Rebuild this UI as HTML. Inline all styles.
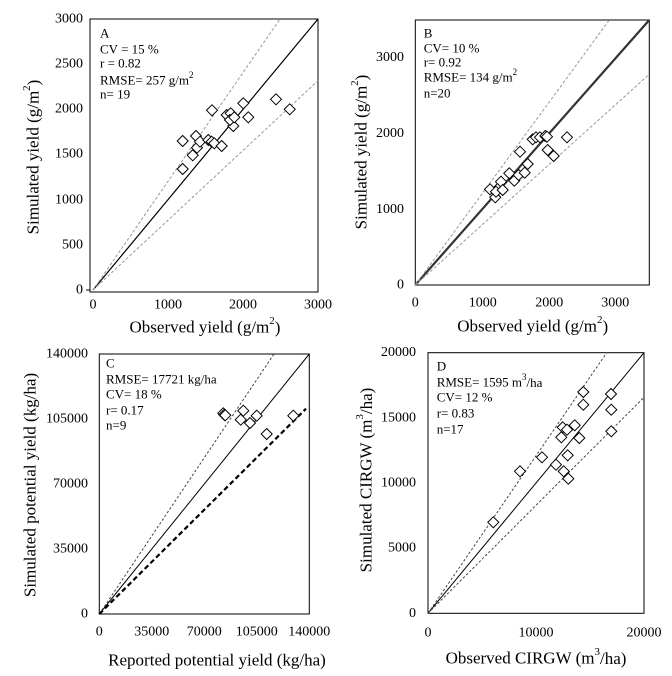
<!DOCTYPE html>
<html><head><meta charset="utf-8"><style>
html,body{margin:0;padding:0;background:#fff;}
svg{display:block;font-family:"Liberation Serif",serif;}
.t{font-size:14px;fill:#000;dominant-baseline:central;}
.a{font-size:17px;fill:#000;dominant-baseline:central;text-anchor:middle;}
.n{font-size:13px;fill:#000;dominant-baseline:central;}
.d{fill:#fff;stroke:#000;stroke-width:1;}
</style></head><body>
<svg width="672" height="676" viewBox="0 0 672 676" xmlns="http://www.w3.org/2000/svg">
<defs><path id="dm" d="M0,-5.5 L5.5,0 L0,5.5 L-5.5,0 Z" class="d"/></defs>

<!-- Panel A -->
<rect x="90" y="19" width="228" height="273" fill="none" stroke="#000" stroke-width="1"/>
<line x1="93" y1="290" x2="318" y2="19" stroke="#000" stroke-width="1.2"/>
<line x1="93" y1="290" x2="280" y2="19" stroke="#999" stroke-dasharray="3,2"/>
<line x1="93" y1="290" x2="318" y2="80.7" stroke="#999" stroke-dasharray="3,2"/>
<g fill="#000">
<line x1="90" y1="290" x2="86" y2="290" stroke="#000"/>
</g>
<g class="t" text-anchor="end">
<text x="83" y="290">0</text><text x="83" y="245">500</text><text x="83" y="200">1000</text><text x="83" y="154">1500</text><text x="83" y="109">2000</text><text x="83" y="64">2500</text><text x="83" y="19">3000</text>
</g>
<g class="t" text-anchor="middle">
<text x="93" y="305">0</text><text x="168" y="305">1000</text><text x="243" y="305">2000</text><text x="318" y="305">3000</text>
</g>
<g class="n"><text x="100" y="33">A</text><text x="100" y="49">CV = 15 %</text><text x="100" y="63">r = 0.82</text><text x="100" y="80">RMSE= 257 g/m<tspan font-size="9" dy="-5">2</tspan></text><text x="100" y="94">n= 19</text></g>
<text class="a" x="205" y="327">Observed yield (g/m<tspan font-size="11" dy="-6">2</tspan><tspan dy="6">)</tspan></text>
<text class="a" transform="translate(33,157) rotate(-90)">Simulated yield (g/m<tspan font-size="11" dy="-6">2</tspan><tspan dy="6">)</tspan></text>
<g transform="scale(0.3333)">
</g>
<g>
<use href="#dm" x="182.7" y="141"/><use href="#dm" x="182.7" y="169"/><use href="#dm" x="192.7" y="155.3"/><use href="#dm" x="196" y="136"/><use href="#dm" x="197" y="147.7"/><use href="#dm" x="200" y="141.7"/><use href="#dm" x="212" y="110.3"/><use href="#dm" x="208.3" y="140"/><use href="#dm" x="211.7" y="141.7"/><use href="#dm" x="214.3" y="143.3"/><use href="#dm" x="221.7" y="146"/><use href="#dm" x="226.7" y="115"/><use href="#dm" x="230.7" y="113.3"/><use href="#dm" x="233.3" y="126"/><use href="#dm" x="230" y="120"/><use href="#dm" x="234.3" y="117.3"/><use href="#dm" x="243.3" y="103.3"/><use href="#dm" x="248.3" y="117.3"/><use href="#dm" x="276" y="99.3"/><use href="#dm" x="289.7" y="109.3"/>
</g>

<!-- Panel B -->
<rect x="415.3" y="20" width="234" height="265" fill="none" stroke="#000" stroke-width="1"/>
<line x1="415.3" y1="285" x2="649.3" y2="20" stroke="#333" stroke-width="2.2"/>
<line x1="415.3" y1="285" x2="609.3" y2="20" stroke="#999" stroke-dasharray="3,2"/>
<line x1="415.3" y1="285" x2="649.3" y2="74.3" stroke="#999" stroke-dasharray="3,2"/>
<g class="t" text-anchor="end">
<text x="404" y="285">0</text><text x="404" y="209.3">1000</text><text x="404" y="133.3">2000</text><text x="404" y="57.7">3000</text>
</g>
<g class="t" text-anchor="middle">
<text x="415.3" y="303">0</text><text x="482.7" y="303">1000</text><text x="549.3" y="303">2000</text><text x="615.3" y="303">3000</text>
</g>
<g class="n"><text x="423.7" y="33">B</text><text x="423.7" y="48">CV= 10 %</text><text x="423.7" y="62">r= 0.92</text><text x="423.7" y="77">RMSE= 134 g/m<tspan font-size="9" dy="-5">2</tspan></text><text x="423.7" y="93">n=20</text></g>
<text class="a" x="532.7" y="326">Observed yield (g/m<tspan font-size="11" dy="-6">2</tspan><tspan dy="6">)</tspan></text>
<text class="a" transform="translate(361,152) rotate(-90)">Simulated yield (g/m<tspan font-size="11" dy="-6">2</tspan><tspan dy="6">)</tspan></text>
<g>
<use href="#dm" x="490" y="189.3"/><use href="#dm" x="495.3" y="197.3"/><use href="#dm" x="499.3" y="187.3"/><use href="#dm" x="501" y="181.7"/><use href="#dm" x="496" y="191.7"/><use href="#dm" x="502.7" y="190"/><use href="#dm" x="509.3" y="173.3"/><use href="#dm" x="514.3" y="180.7"/><use href="#dm" x="518.7" y="175"/><use href="#dm" x="520" y="151.7"/><use href="#dm" x="524.7" y="172.7"/><use href="#dm" x="527.7" y="164"/><use href="#dm" x="532.7" y="139.3"/><use href="#dm" x="536" y="137.3"/><use href="#dm" x="540" y="137.3"/><use href="#dm" x="545.3" y="136"/><use href="#dm" x="547" y="136.7"/><use href="#dm" x="547.7" y="150"/><use href="#dm" x="553.7" y="156"/><use href="#dm" x="567" y="137.3"/>
</g>

<!-- Panel C -->
<rect x="99.3" y="354" width="210" height="260" fill="none" stroke="#000" stroke-width="1"/>
<line x1="99.3" y1="614" x2="309.3" y2="354" stroke="#000" stroke-width="1"/>
<line x1="99.3" y1="614" x2="274" y2="354" stroke="#444" stroke-dasharray="2.5,2"/>
<line x1="99.3" y1="614" x2="306" y2="408.7" stroke="#000" stroke-width="2.2" stroke-dasharray="5,3"/>
<g class="t" text-anchor="end">
<text x="88" y="614">0</text><text x="88" y="549">35000</text><text x="88" y="484">70000</text><text x="88" y="419">105000</text><text x="88" y="354">140000</text>
</g>
<g class="t" text-anchor="middle">
<text x="99.3" y="632">0</text><text x="151.8" y="632">35000</text><text x="204.3" y="632">70000</text><text x="256.8" y="632">105000</text><text x="309.3" y="632">140000</text>
</g>
<g class="n"><text x="106" y="363">C</text><text x="106" y="379">RMSE= 17721 kg/ha</text><text x="106" y="394">CV= 18 %</text><text x="106" y="410">r= 0.17</text><text x="106" y="425">n=9</text></g>
<text class="a" x="217" y="660">Reported potential yield (kg/ha)</text>
<text class="a" transform="translate(30,485) rotate(-90)">Simulated potential yield (kg/ha)</text>
<g>
<use href="#dm" x="223.3" y="413.3"/><use href="#dm" x="224.3" y="414.7"/><use href="#dm" x="225.3" y="415.3"/><use href="#dm" x="243.3" y="410.7"/><use href="#dm" x="240.7" y="419.7"/><use href="#dm" x="250" y="423"/><use href="#dm" x="256.7" y="415.7"/><use href="#dm" x="266.7" y="434"/><use href="#dm" x="293.3" y="415.7"/>
</g>

<!-- Panel D -->
<rect x="428" y="352.7" width="216" height="260.6" fill="none" stroke="#000" stroke-width="1"/>
<line x1="428" y1="613.3" x2="644" y2="352.7" stroke="#000" stroke-width="1"/>
<line x1="428" y1="613.3" x2="606.7" y2="352.7" stroke="#444" stroke-dasharray="2.5,2"/>
<line x1="428" y1="613.3" x2="644" y2="397.3" stroke="#444" stroke-dasharray="2.5,2"/>
<g class="t" text-anchor="end">
<text x="416" y="613.3">0</text><text x="416" y="548.2">5000</text><text x="416" y="483">10000</text><text x="416" y="417.9">15000</text><text x="416" y="352.7">20000</text>
</g>
<g class="t" text-anchor="middle">
<text x="428" y="633">0</text><text x="536" y="633">10000</text><text x="644" y="633">20000</text>
</g>
<g class="n"><text x="436.7" y="366">D</text><text x="436.7" y="382">RMSE= 1595 m<tspan font-size="9" dy="-5">3</tspan><tspan dy="5">/ha</tspan></text><text x="436.7" y="397">CV= 12 %</text><text x="436.7" y="413">r= 0.83</text><text x="436.7" y="429">n=17</text></g>
<text class="a" x="536" y="658">Observed CIRGW (m<tspan font-size="11" dy="-6">3</tspan><tspan dy="6">/ha)</tspan></text>
<text class="a" transform="translate(366,480) rotate(-90)">Simulated CIRGW (m<tspan font-size="11" dy="-6">3</tspan><tspan dy="6">/ha)</tspan></text>
<g>
<use href="#dm" x="493.3" y="522.3"/><use href="#dm" x="520" y="471.3"/><use href="#dm" x="542" y="457.3"/><use href="#dm" x="556" y="464.7"/><use href="#dm" x="561.3" y="437.3"/><use href="#dm" x="562.7" y="427.3"/><use href="#dm" x="563.7" y="471.3"/><use href="#dm" x="567" y="429.7"/><use href="#dm" x="567.7" y="455.3"/><use href="#dm" x="568.3" y="478.7"/><use href="#dm" x="574.7" y="425.3"/><use href="#dm" x="579.3" y="438"/><use href="#dm" x="583.3" y="404.7"/><use href="#dm" x="583.3" y="392"/><use href="#dm" x="611" y="394"/><use href="#dm" x="611.3" y="409.7"/><use href="#dm" x="611.3" y="431.3"/>
</g>
</svg>
</body></html>
